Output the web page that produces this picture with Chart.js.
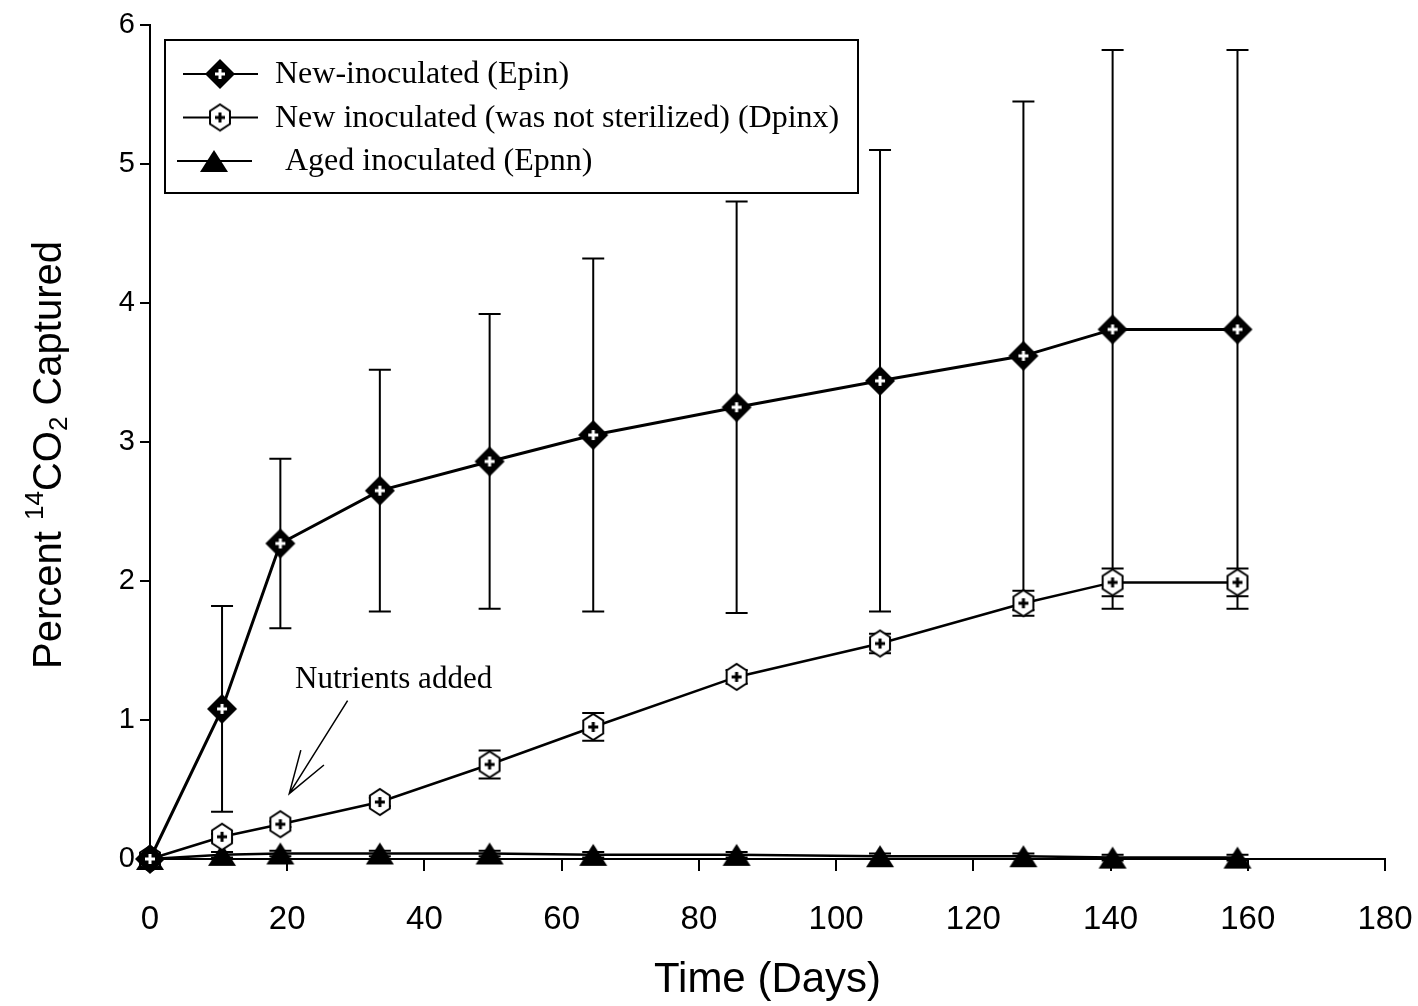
<!DOCTYPE html>
<html>
<head>
<meta charset="utf-8">
<script src="https://cdn.jsdelivr.net/npm/chart.js@4/dist/chart.umd.min.js"></script>
<style>
  html, body { margin: 0; padding: 0; background: #fff; }
  #wrap { width: 1418px; height: 1006px; }
</style>
</head>
<body>
<div id="wrap"><canvas id="myChart" width="1418" height="1006"></canvas></div>
<script>
// sampling days and the three series (percent 14CO2 captured)
var days     = [0, 10.5, 19, 33.5, 49.5, 64.6, 85.5, 106.4, 127.3, 140.3, 158.5];
var epin     = [0, 1.08, 2.27, 2.65, 2.86, 3.05, 3.25, 3.44, 3.62, 3.81, 3.81];
var epinErr  = [0, 0.74, 0.61, 0.87, 1.06, 1.27, 1.48, 1.66, 1.83, 2.01, 2.01];
var dpinx    = [0, 0.16, 0.25, 0.41, 0.68, 0.95, 1.31, 1.55, 1.84, 1.99, 1.99];
var dpinxErr = [0, 0.02, 0.02, 0.03, 0.10, 0.10, 0.05, 0.07, 0.09, 0.10, 0.10];
var epnn     = [0, 0.03, 0.04, 0.04, 0.04, 0.03, 0.03, 0.02, 0.02, 0.01, 0.01];
var epnnErr  = [0, 0.02, 0.02, 0.02, 0.02, 0.02, 0.02, 0.02, 0.02, 0.02, 0.02];
var seriesNames = ["New-inoculated (Epin)", "New inoculated (was not sterilized) (Dpinx)", "Aged inoculated (Epnn)"];
var xTicks = [0, 20, 40, 60, 80, 100, 120, 140, 160, 180];
var yTicks = [0, 1, 2, 3, 4, 5, 6];
var note = {text: "Nutrients added", x: 35.5, y: 1.29, tipX: 20.3, tipY: 0.47, tailX: 28.8, tailY: 1.14};

function pts(ys) {
  var out = [];
  for (var i = 0; i < days.length; i++) out.push({x: days[i], y: ys[i]});
  return out;
}

// marker images
function makeDiamond() {
  var c = document.createElement("canvas"); c.width = 32; c.height = 32;
  var g = c.getContext("2d");
  g.beginPath(); g.moveTo(16, 1); g.lineTo(31, 16); g.lineTo(16, 31); g.lineTo(1, 16); g.closePath();
  g.fillStyle = "#000"; g.fill();
  g.fillStyle = "#fff";
  g.fillRect(14.5, 11, 3, 10); g.fillRect(11, 14.5, 10, 3);
  return c;
}
function makeHex() {
  var c = document.createElement("canvas"); c.width = 28; c.height = 30;
  var g = c.getContext("2d");
  g.beginPath();
  for (var k = 0; k < 6; k++) {
    var a = Math.PI / 2 + k * Math.PI / 3;
    var px = 14 + 11.5 * Math.cos(a), py = 15 + 13 * Math.sin(a);
    if (k == 0) g.moveTo(px, py); else g.lineTo(px, py);
  }
  g.closePath();
  g.fillStyle = "#fff"; g.fill();
  g.lineWidth = 2; g.strokeStyle = "#000"; g.stroke();
  g.fillStyle = "#000";
  g.fillRect(12.5, 10, 3, 10); g.fillRect(9, 13.5, 10, 3);
  return c;
}
function makeTri() {
  var c = document.createElement("canvas"); c.width = 30; c.height = 24;
  var g = c.getContext("2d");
  g.beginPath(); g.moveTo(15, 1); g.lineTo(29, 23); g.lineTo(1, 23); g.closePath();
  g.fillStyle = "#000"; g.fill();
  return c;
}
var markers = [makeDiamond(), makeHex(), makeTri()];
var errs = [epinErr, dpinxErr, epnnErr];

// error bars, drawn under the markers
var errorBars = {
  id: "errorBars",
  beforeDatasetsDraw: function(chart) {
    var ctx = chart.ctx, xs = chart.scales.x, ys = chart.scales.y;
    ctx.save();
    ctx.strokeStyle = "#000";
    ctx.lineWidth = 2;
    chart.data.datasets.forEach(function(ds, di) {
      var e = errs[di];
      ds.data.forEach(function(p, i) {
        if (!e[i]) return;
        var x = xs.getPixelForValue(p.x);
        var y1 = ys.getPixelForValue(p.y + e[i]);
        var y2 = ys.getPixelForValue(p.y - e[i]);
        ctx.beginPath();
        ctx.moveTo(x, y1); ctx.lineTo(x, y2);
        ctx.moveTo(x - 11, y1); ctx.lineTo(x + 11, y1);
        ctx.moveTo(x - 11, y2); ctx.lineTo(x + 11, y2);
        ctx.stroke();
      });
    });
    ctx.restore();
  }
};

// legend box, y title with super/subscript, annotation
var extras = {
  id: "extras",
  afterDraw: function(chart) {
    var ctx = chart.ctx, ca = chart.chartArea, xs = chart.scales.x, ys = chart.scales.y;
    ctx.save();
    // legend
    var lx = ca.left + 15, ly = ca.top + 15;
    ctx.lineWidth = 2; ctx.strokeStyle = "#000";
    ctx.strokeRect(lx, ly, 693, 153);
    ctx.font = "32px 'Liberation Serif', 'Times New Roman', serif";
    ctx.fillStyle = "#000";
    ctx.textBaseline = "middle";
    ctx.textAlign = "left";
    for (var i = 0; i < seriesNames.length; i++) {
      var ry = ly + 34 + i * 43.5;
      var off = i == 2 ? -6 : 0;
      ctx.beginPath();
      ctx.moveTo(lx + 18 + off, ry); ctx.lineTo(lx + 93 + off, ry);
      ctx.stroke();
      var m = markers[i];
      ctx.drawImage(m, lx + 55 + off - m.width / 2, ry - m.height / 2);
      ctx.fillText(seriesNames[i], lx + 110 + (i == 2 ? 10 : 0), ry + 1);
    }
    // y title
    ctx.save();
    ctx.translate(50, (ca.top + ca.bottom) / 2 + 13);
    ctx.rotate(-Math.PI / 2);
    var big = "40px 'Liberation Sans', Arial, sans-serif";
    var small = "26px 'Liberation Sans', Arial, sans-serif";
    var parts = [[big, "Percent ", 0], [small, "14", -14], [big, "CO", 0], [small, "2", 10], [big, " Captured", 0]];
    var total = 0;
    parts.forEach(function(p) { ctx.font = p[0]; total += ctx.measureText(p[1]).width; });
    var cx = -total / 2;
    ctx.textBaseline = "middle";
    parts.forEach(function(p) {
      ctx.font = p[0];
      ctx.fillText(p[1], cx, p[2]);
      cx += ctx.measureText(p[1]).width;
    });
    ctx.restore();
    // annotation
    ctx.font = "31px 'Liberation Serif', 'Times New Roman', serif";
    ctx.textAlign = "center";
    ctx.fillText(note.text, xs.getPixelForValue(note.x), ys.getPixelForValue(note.y));
    var tx = xs.getPixelForValue(note.tipX), ty = ys.getPixelForValue(note.tipY);
    var sx = xs.getPixelForValue(note.tailX), sy = ys.getPixelForValue(note.tailY);
    var ang = Math.atan2(sy - ty, sx - tx);
    ctx.lineWidth = 1.5;
    ctx.beginPath();
    ctx.moveTo(sx, sy); ctx.lineTo(tx, ty);
    ctx.moveTo(tx + 45 * Math.cos(ang - 0.3), ty + 45 * Math.sin(ang - 0.3)); ctx.lineTo(tx, ty);
    ctx.lineTo(tx + 45 * Math.cos(ang + 0.32), ty + 45 * Math.sin(ang + 0.32));
    ctx.stroke();
    ctx.restore();
  }
};

function mkDs(label, ys, idx, w) {
  return {
    label: label,
    data: pts(ys),
    borderColor: "#000",
    backgroundColor: "#000",
    borderWidth: w,
    pointStyle: markers[idx],
    pointRadius: 12,
    pointHoverRadius: 12,
    tension: 0,
    clip: false
  };
}

new Chart("myChart", {
  type: "line",
  data: {
    datasets: [
      mkDs(seriesNames[0], epin, 0, 3),
      mkDs(seriesNames[1], dpinx, 1, 2.5),
      mkDs(seriesNames[2], epnn, 2, 2.5)
    ]
  },
  options: {
    responsive: false,
    animation: false,
    events: [],
    layout: { padding: { top: 25, right: 33, left: 0, bottom: 0 } },
    plugins: { legend: { display: false }, tooltip: { enabled: false } },
    scales: {
      x: {
        type: "linear",
        min: 0, max: 180,
        afterFit: function(s) { s.height = 147; s.paddingLeft = 0; s.paddingRight = 0; },
        afterBuildTicks: function(s) { s.ticks = xTicks.map(function(v) { return {value: v}; }); },
        border: { display: true, color: "#000", width: 2 },
        grid: { drawOnChartArea: false, drawTicks: true, tickLength: 12, color: "#000", lineWidth: 2 },
        ticks: {
          color: "#000", padding: 29, maxRotation: 0,
          font: { family: "'Liberation Sans', Arial, sans-serif", size: 33 }
        },
        title: {
          display: true, text: "Time (Days)", color: "#000",
          padding: { top: 0, bottom: 5 },
          font: { family: "'Liberation Sans', Arial, sans-serif", size: 42, lineHeight: 1 }
        }
      },
      y: {
        min: 0, max: 6,
        afterFit: function(s) { s.width = 150; s.paddingTop = 0; s.paddingBottom = 0; },
        afterBuildTicks: function(s) { s.ticks = yTicks.map(function(v) { return {value: v}; }); },
        border: { display: true, color: "#000", width: 2 },
        grid: { drawOnChartArea: false, drawTicks: true, tickLength: 10, color: "#000", lineWidth: 2 },
        ticks: {
          color: "#000", padding: 5,
          font: { family: "'Liberation Sans', Arial, sans-serif", size: 29 }
        }
      }
    }
  },
  plugins: [errorBars, extras]
});
</script>
</body>
</html>
